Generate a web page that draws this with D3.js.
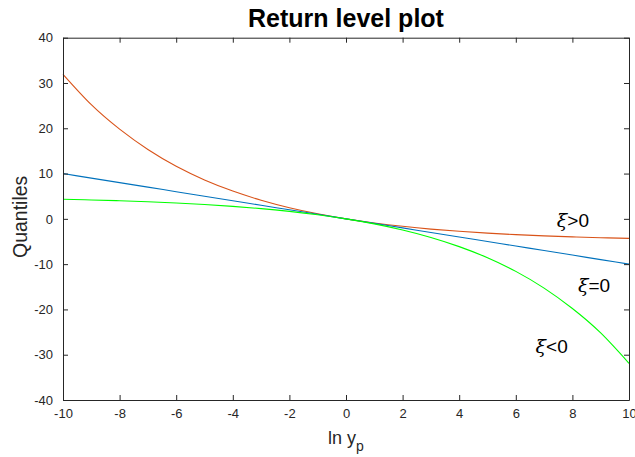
<!DOCTYPE html>
<html>
<head>
<meta charset="utf-8">
<script src="https://cdn.jsdelivr.net/npm/d3@7"></script>
<style>
  html, body { margin: 0; padding: 0; background: #fff; }
  svg { display: block; }
</style>
</head>
<body>
<svg id="chart" width="635" height="457"></svg>
<script>
// Return level curves of the GEV family, sampled at integer ln y_p
const lnYp = [-10, -9, -8, -7, -6, -5, -4, -3, -2, -1, 0, 1, 2, 3, 4, 5, 6, 7, 8, 9, 10];
const xiPos = [31.9, 25.2, 19.8, 15.3, 11.6, 8.59, 6.13, 4.11, 2.46, 1.11, 0, -0.91, -1.65, -2.26, -2.75, -3.16, -3.49, -3.77, -3.99, -4.17, -4.32];
const xiZero = [10, 9, 8, 7, 6, 5, 4, 3, 2, 1, 0, -1, -2, -3, -4, -5, -6, -7, -8, -9, -10];
const xiNeg = [4.32, 4.17, 3.99, 3.77, 3.49, 3.16, 2.75, 2.26, 1.65, 0.91, 0, -1.11, -2.46, -4.11, -6.13, -8.59, -11.6, -15.3, -19.8, -25.2, -31.9];
const xTicks = [-10, -8, -6, -4, -2, 0, 2, 4, 6, 8, 10];
const yTicks = [-40, -30, -20, -10, 0, 10, 20, 30, 40];

const series = [
  { name: "pos", values: xiPos, color: "#D95319" },
  { name: "zero", values: xiZero, color: "#0072BD" },
  { name: "neg", values: xiNeg, color: "#00FF00" }
];

const labels = [
  { rel: ">0", x: 7.45, y: -1.8 },
  { rel: "=0", x: 8.2, y: -16.2 },
  { rel: "<0", x: 6.7, y: -29.6 }
];

const svg = d3.select("#chart");
const m = { left: 63, right: 6, top: 37.7, bottom: 57 };
const W = 635, H = 457;
const x = d3.scaleLinear().domain([-10, 10]).range([m.left, W - m.right]);
const y = d3.scaleLinear().domain([-40, 40]).range([H - m.bottom, m.top]);

const axisColor = "#262626";
const tickFont = "Liberation Sans, Arial, Helvetica, sans-serif";
const fmt = d => String(d);

function styleAxis(g) {
  g.select(".domain").attr("stroke", axisColor).attr("stroke-width", 1);
  g.selectAll(".tick line").attr("stroke", axisColor).attr("stroke-width", 1);
  g.selectAll(".tick text").attr("fill", axisColor)
    .style("font-family", tickFont).style("font-size", "13px");
}

// curves
const line = d3.line()
  .x((d, i) => x(lnYp[i]))
  .y(d => y(d))
  .curve(d3.curveNatural);

svg.append("g").selectAll("path")
  .data(series)
  .join("path")
  .attr("fill", "none")
  .attr("stroke", d => d.color)
  .attr("stroke-width", 1.1)
  .attr("d", d => line(d.values));

// box with inward ticks on all sides
svg.append("g")
  .attr("transform", `translate(0,${y(-40)})`)
  .call(d3.axisBottom(x).tickValues(xTicks).tickFormat(fmt).tickSize(-5).tickSizeOuter(0).tickPadding(9))
  .call(styleAxis);
svg.append("g")
  .attr("transform", `translate(0,${y(40)})`)
  .call(d3.axisTop(x).tickValues(xTicks).tickSize(-5).tickSizeOuter(0).tickFormat(""))
  .call(styleAxis);
svg.append("g")
  .attr("transform", `translate(${x(-10)},0)`)
  .call(d3.axisLeft(y).tickValues(yTicks).tickFormat(fmt).tickSize(-5).tickSizeOuter(0).tickPadding(10))
  .call(styleAxis);
svg.append("g")
  .attr("transform", `translate(${x(10)},0)`)
  .call(d3.axisRight(y).tickValues(yTicks).tickSize(-5).tickSizeOuter(0).tickFormat(""))
  .call(styleAxis);

// curve annotations
const ann = svg.append("g").selectAll("text")
  .data(labels)
  .join("text")
  .attr("x", d => x(d.x))
  .attr("y", d => y(d.y))
  .attr("fill", "#000")
  .style("font-family", tickFont)
  .style("font-size", "19px");
ann.append("tspan")
  .style("font-family", "DejaVu Serif, Liberation Serif, serif")
  .style("font-style", "italic")
  .text("ξ");
ann.append("tspan").text(d => d.rel);

// title
svg.append("text")
  .attr("x", (x(-10) + x(10)) / 2)
  .attr("y", 27)
  .attr("text-anchor", "middle")
  .style("font-family", tickFont)
  .style("font-weight", "bold")
  .style("font-size", "25px")
  .attr("fill", "#000")
  .text("Return level plot");

// axis titles
const xl = svg.append("text")
  .attr("x", (x(-10) + x(10)) / 2)
  .attr("y", 444)
  .attr("text-anchor", "middle")
  .style("font-family", tickFont)
  .style("font-size", "18px")
  .attr("fill", axisColor);
xl.append("tspan").text("ln y");
xl.append("tspan").attr("dy", 7).style("font-size", "14px").text("p");

svg.append("text")
  .attr("transform", `translate(27,${(y(-40) + y(40)) / 2 - 2}) rotate(-90)`)
  .attr("text-anchor", "middle")
  .style("font-family", tickFont)
  .style("font-size", "19.5px")
  .attr("fill", axisColor)
  .text("Quantiles");
</script>
</body>
</html>
